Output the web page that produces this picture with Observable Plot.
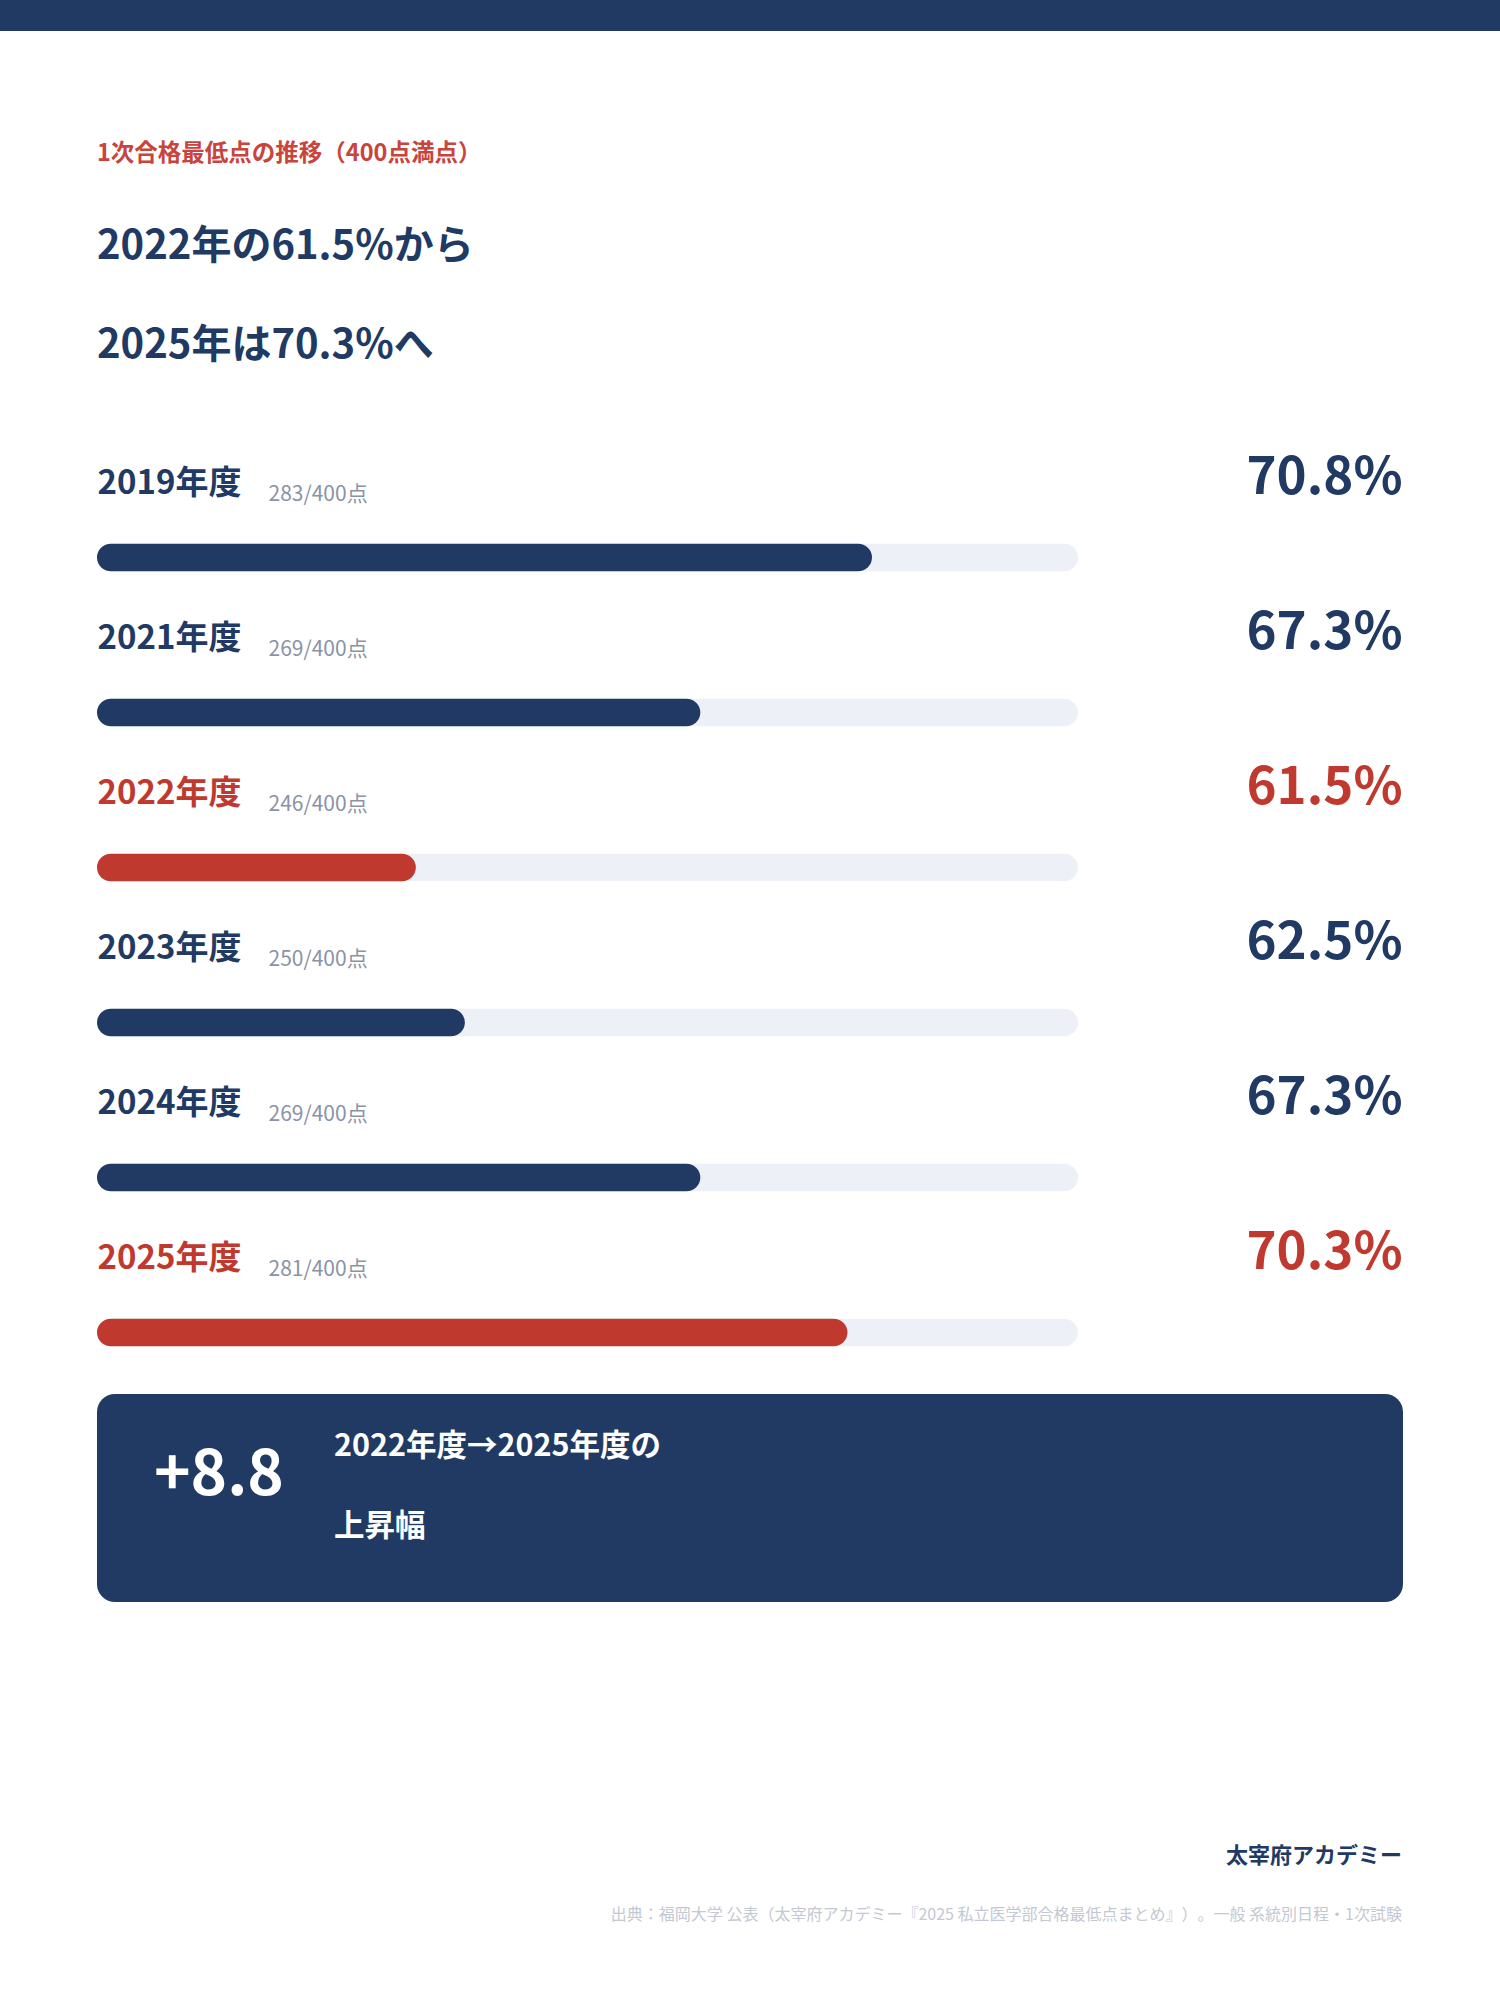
<!DOCTYPE html>
<html lang="ja">
<head>
<meta charset="utf-8">
<script src="https://cdn.jsdelivr.net/npm/d3@7"></script>
<script src="https://cdn.jsdelivr.net/npm/@observablehq/plot@0.6"></script>
<style>
  html, body { margin: 0; padding: 0; background: #ffffff; }
  body { width: 1500px; height: 2000px; position: relative; font-family: "Noto Sans CJK JP", "Noto Sans", sans-serif; overflow: hidden; text-spacing-trim: space-all; }
  .abs { position: absolute; white-space: nowrap; }
  #topbar { position: absolute; left: 0; top: 0; width: 1500px; height: 31px; background: #213a63; }
  #kicker { left: 97px; top: 151px; transform: translateY(-50%); font-size: 23.5px; font-weight: 700; color: #c8443c; }
  .title { left: 97px; transform: translateY(-50%); font-size: 40px; font-weight: 700; color: #213a63; }
  #chart { position: absolute; left: 0; top: 397px; }
  #box { position: absolute; left: 97px; top: 1394px; width: 1306px; height: 208px; border-radius: 18px; background: #213a63; }
  #delta { left: 57px; top: 74px; transform: translateY(-50%); font-size: 62px; font-weight: 700; color: #ffffff; }
  .boxline { left: 237px; transform: translateY(-50%); font-size: 30.5px; font-weight: 700; color: #ffffff; }
  #brand { right: 98px; top: 1853px; transform: translateY(-50%); font-size: 22px; font-weight: 700; color: #213a63; }
  #source { right: 98px; top: 1913px; transform: translateY(-50%); font-size: 16px; color: #c3c8d3; }
</style>
</head>
<body>
<div id="topbar"></div>
<div id="kicker" class="abs"></div>
<div id="title1" class="abs title" style="top:242px"></div>
<div id="title2" class="abs title" style="top:341px"></div>
<div id="chart"></div>
<div id="box">
  <div id="delta" class="abs"></div>
  <div id="boxline1" class="abs boxline" style="top:49px"></div>
  <div id="boxline2" class="abs boxline" style="top:129px"></div>
</div>
<div id="brand" class="abs"></div>
<div id="source" class="abs"></div>
<script>
// ---- data ----
const years = ["2019", "2021", "2022", "2023", "2024", "2025"];
const scores = [283, 269, 246, 250, 269, 281];
const maxScore = 400;
const percents = [70.8, 67.3, 61.5, 62.5, 67.3, 70.3];
const highlightYears = ["2022", "2025"];
const axisDomain = [55, 75];

const kickerText = "1次合格最低点の推移（400点満点）";
const titleLines = ["2022年の61.5%から", "2025年は70.3%へ"];
const boxLines = ["2022年度→2025年度の", "上昇幅"];
const brandText = "太宰府アカデミー";
const sourceText = "出典：福岡大学 公表（太宰府アカデミー『2025 私立医学部合格最低点まとめ』）。一般 系統別日程・1次試験";

// ---- colours ----
const NAVY = "#213a63";
const RED = "#c0392e";
const TRACK = "#edf0f7";
const GRAY = "#8a93a5";

const rows = years.map((y, i) => ({
  year: y,
  label: y + "年度",
  score: `${scores[i]}/${maxScore}点`,
  pct: percents[i],
  pctLabel: percents[i].toFixed(1) + "%",
  color: highlightYears.includes(y) ? RED : NAVY
}));

document.getElementById("kicker").textContent = kickerText;
document.getElementById("title1").textContent = titleLines[0];
document.getElementById("title2").textContent = titleLines[1];
const i22 = years.indexOf("2022"), i25 = years.indexOf("2025");
document.getElementById("delta").textContent = "+" + (percents[i25] - percents[i22]).toFixed(1);
document.getElementById("boxline1").textContent = boxLines[0];
document.getElementById("boxline2").textContent = boxLines[1];
document.getElementById("brand").textContent = brandText;
document.getElementById("source").textContent = sourceText;

// ---- chart ----
const step = 155.6, barH = 28, inset = (step - barH) / 2;
const top0 = 559 - 400 - step / 2;
const chart = Plot.plot({
  width: 1500,
  height: 960,
  marginLeft: 97,
  marginRight: 98,
  marginTop: 0,
  marginBottom: 0,
  style: { fontFamily: "'Noto Sans CJK JP', 'Noto Sans', sans-serif", background: "transparent", overflow: "visible" },
  x: { domain: axisDomain, range: [97, 1078], axis: null },
  y: { type: "band", domain: years, range: [top0, top0 + step * years.length], padding: 0, axis: null },
  color: { type: "identity" },
  marks: [
    Plot.barX(rows, { x1: axisDomain[0], x2: axisDomain[1], y: "year", fill: TRACK, insetTop: inset, insetBottom: inset, rx: barH / 2, ry: barH / 2 }),
    Plot.barX(rows, { x1: axisDomain[0], x2: "pct", y: "year", fill: "color", insetTop: inset, insetBottom: inset, rx: barH / 2, ry: barH / 2 }),
    Plot.text(rows, { x: axisDomain[0], y: "year", text: "label", fill: "color", textAnchor: "start", lineAnchor: "bottom", dy: -64, fontSize: 33, fontWeight: 700 }),
    Plot.text(rows, { x: axisDomain[0], y: "year", text: "score", fill: GRAY, textAnchor: "start", lineAnchor: "bottom", dx: 171, dy: -57, fontSize: 21, fontWeight: 400 }),
    Plot.text(rows, { frameAnchor: "right", y: "year", text: "pctLabel", fill: "color", textAnchor: "end", lineAnchor: "bottom", dy: -64, fontSize: 51, fontWeight: 700 })
  ]
});
document.getElementById("chart").appendChild(chart);
</script>
</body>
</html>
